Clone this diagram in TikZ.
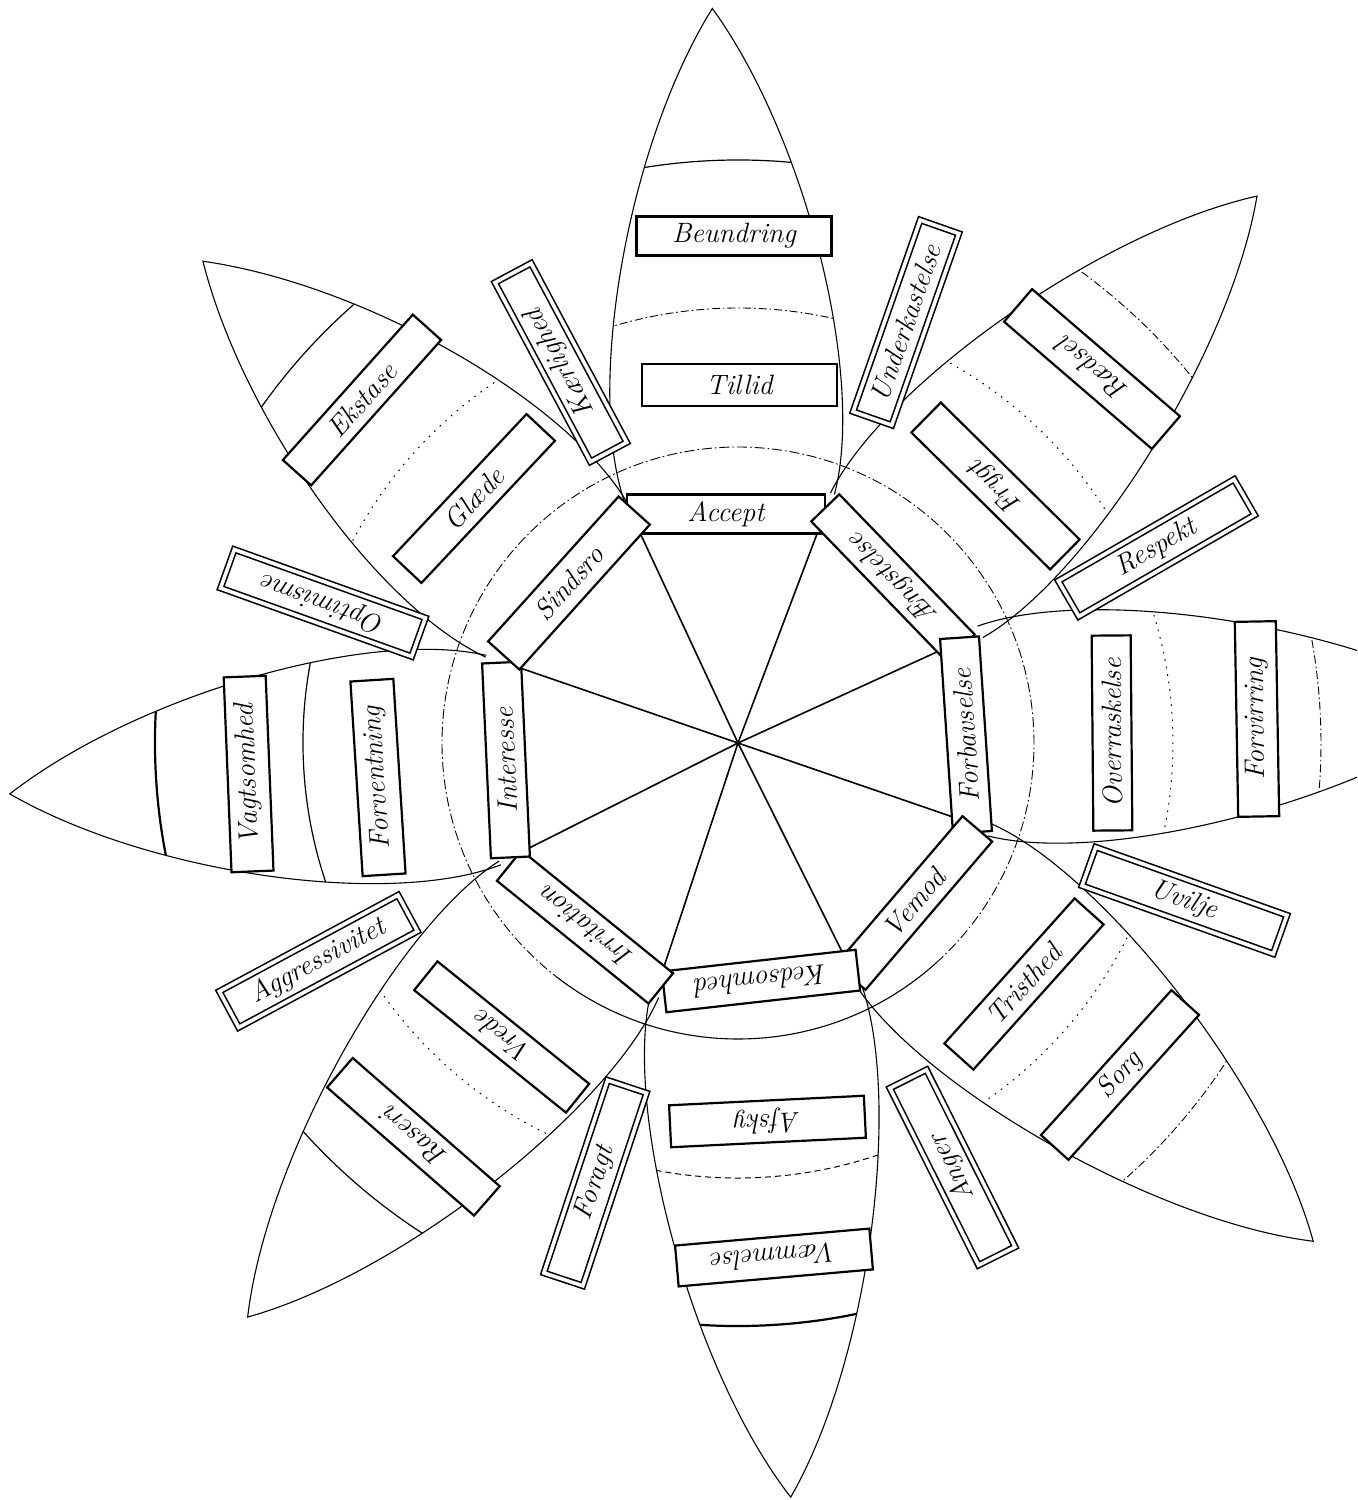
\documentclass[tikz,border=0pt]{standalone}
\usepackage{fontspec}
\tikzset{
  lbl/.style={draw, line width=1.1pt, fill=white, minimum width=97.5pt, minimum height=19.5pt, inner sep=0pt, font=\fontsize{14}{16}\selectfont\itshape},
  dyad/.style={draw, line width=0.8pt, double, double distance=1.8pt, fill=white, minimum width=101.5pt, minimum height=20.5pt, inner sep=0pt, font=\fontsize{14}{16}\selectfont\itshape},
  petal/.style={line width=0.55pt},
  spoke/.style={line width=0.8pt},
  ring/.style={line width=0.45pt, dash pattern=on 5pt off 1.5pt on 0.8pt off 1.5pt},
  bsolid/.style={line width=0.6pt},
  bthick/.style={line width=1.1pt},
  bdashdot/.style={line width=0.45pt, dash pattern=on 4pt off 1.5pt on 0.8pt off 1.5pt},
  bdot/.style={line width=0.5pt, dash pattern=on 0.8pt off 3pt},
  bdash/.style={line width=0.5pt, dash pattern=on 3pt off 2pt},
}
\newcommand\drawpetal[4]{%
  \begin{scope}[rotate=#1-90]
    \pgfmathsetmacro\pc{#2-134}
    \begin{scope}
      \clip (-105,245) .. controls (-140,360) and (-90,\pc) .. (0,#2) .. controls (90,\pc) and (140,360) .. (105,245) -- cycle;
      \draw[#3] (0,0) circle[radius=583];
      \draw[#4] (0,0) circle[radius=435];
    \end{scope}
    \draw[petal] (-105,245) .. controls (-140,360) and (-90,\pc) .. (0,#2) .. controls (90,\pc) and (140,360) .. (105,245);
  \end{scope}}
\begin{document}
\begin{tikzpicture}[x=0.5pt, y=0.5pt]
\useasboundingbox (-738,-757) rectangle (619,743);
\fill[white] (-738,-757) rectangle (619,743);
\clip (-738,-757) rectangle (619,743);

\coordinate (O) at (0,0);

% dashed ring
\draw[ring] (-48:296) arc[start angle=-48, end angle=232, radius=296];
\draw[petal] (232:296) arc[start angle=232, end angle=312, radius=296];

% spokes
\foreach \a [count=\i] in {115,69.3,24.6,-19,-63.5,-108.3,-153.3,161}{
  \coordinate (v\i) at (\a:240);
  \draw[spoke] (O) -- (v\i);
}

% petals: axis angle, tip radius, outer band style, inner band style
\drawpetal{92}{735}{bsolid}{bdashdot}
\drawpetal{46.5}{754}{bdashdot}{bdot}
\drawpetal{2.8}{750}{bdashdot}{bdot}
\drawpetal{-40.9}{761}{bdashdot}{bdot}
\drawpetal{-86}{756}{bthick}{bdash}
\drawpetal{-130.5}{755}{bsolid}{bdot}
\drawpetal{184}{730}{bthick}{bsolid}
\drawpetal{138}{720}{bsolid}{bdot}

% inner octagon boxes
\node[lbl, minimum width=99pt] (acc) at (-12,229) {Accept};
\node[lbl, rotate=134] (aeng) at (155,165) {Ængstelse};
\node[lbl, rotate=93.8] (forb) at (228,8) {Forbavselse};
\node[lbl, rotate=49.5] (vem) at (176,-160) {Vemod};
\node[lbl, rotate=186.4, minimum height=20.5pt] (keds) at (23,-238) {Kedsomhed};
\node[lbl, rotate=141] (irr) at (-153,-184) {Irritation};
\node[lbl, rotate=92.6] (inte) at (-232,-17) {Interesse};
\node[lbl, rotate=48, minimum height=21pt] (sinds) at (-169,160) {Sindsro};

% middle ring
\node[lbl, minimum height=21pt] (till) at (1.5,358) {Tillid};
\node[lbl, rotate=135.4, minimum height=21pt] (fryg) at (257.5,257) {Frygt};
\node[lbl, rotate=90.5] (over) at (374,10) {Overraskelse};
\node[lbl, rotate=48.1] (trist) at (286,-241) {Tristhed};
\node[lbl, rotate=182.8, minimum height=21pt] (afsky) at (29.5,-378.5) {Afsky};
\node[lbl, rotate=141.1, minimum height=18.5pt] (vrede) at (-236.3,-294) {Vrede};
\node[lbl, rotate=93.6, minimum height=21.5pt] (forvent) at (-360,-34.5) {Forventning};
\node[lbl, rotate=46.8] (glaede) at (-264,244.5) {Glæde};

% outer ring
\node[lbl] (beun) at (-4,507) {Beundring};
\node[lbl, rotate=139.3, minimum height=21.5pt] (raed) at (354,374) {Rædsel};
\node[lbl, rotate=91, minimum height=20.5pt] (forv) at (519,24) {Forvirring};
\node[lbl, rotate=48, minimum height=18.5pt] (sorg) at (382,-332) {Sorg};
\node[lbl, rotate=185, minimum height=20.5pt] (vaem) at (36,-514.5) {Væmmelse};
\node[lbl, rotate=138.9] (raseri) at (-324.6,-393.8) {Raseri};
\node[lbl, rotate=92.3, minimum height=21pt] (vagt) at (-489.4,-31) {Vagtsomhed};
\node[lbl, rotate=48.2, minimum height=19pt] (ekst) at (-376,343) {Ekstase};

% dyads (double border)
\node[dyad, rotate=118.1] (kaerl) at (-177.2,380.5) {Kærlighed};
\node[dyad, rotate=70.7] (under) at (168,420.4) {Underkastelse};
\node[dyad, rotate=30] (resp) at (418.5,195.1) {Respekt};
\node[dyad, rotate=-19.6] (uvil) at (446.5,-157.5) {Uvilje};
\node[dyad, rotate=116.6, minimum width=99pt] (anger) at (214.5,-424.5) {Anger};
\node[dyad, rotate=71.7] (foragt) at (-142.8,-440) {Foragt};
\node[dyad, rotate=28.3] (aggr) at (-419.6,-218.3) {Aggressivitet};
\node[dyad, rotate=160.3] (optim) at (-415,140) {Optimisme};
\end{tikzpicture}
\end{document}
